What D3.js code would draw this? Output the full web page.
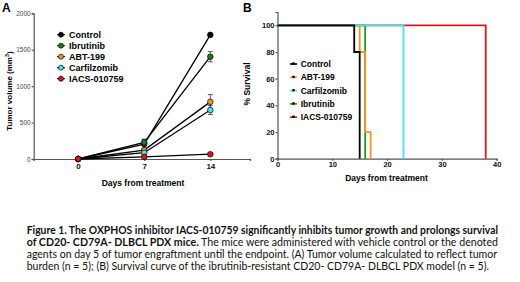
<!DOCTYPE html>
<html>
<head>
<meta charset="utf-8">
<title>IACS-010759 PDX figure</title>
<script src="https://d3js.org/d3.v7.min.js"></script>
<style>
  body { margin: 0; background: #fff; }
  text { font-family: "Liberation Sans", Arial, sans-serif; }
</style>
</head>
<body>
<script>
// ---- panel A data: tumor volume (mm3), mean and error
var daysA = [0, 7, 14];
var namesA = ["Control", "Ibrutinib", "ABT-199", "Carfilzomib", "IACS-010759"];
var colorsA = ["#000000", "#1f7a1f", "#f7941d", "#3fe6f2", "#e3141b"];
var volControl = [0, 205, 1705], errControl = [0, 60, 12];
var volIbrutinib = [0, 228, 1405], errIbrutinib = [0, 45, 70];
var volABT = [0, 122, 785], errABT = [0, 25, 100];
var volCarfilzomib = [0, 86, 672], errCarfilzomib = [0, 18, 62];
var volIACS = [0, 30, 66], errIACS = [0, 8, 14];
var ticksAy = [0, 500, 1000, 1500, 2000];

// ---- panel B data: survival steps (day, % survival)
var namesB = ["Control", "ABT-199", "Carfilzomib", "Ibrutinib", "IACS-010759"];
var colorsB = ["#000000", "#f7941d", "#3fe6f2", "#1f9a1f", "#e8141b"];
var survDaysControl = [0, 14, 15], survControl = [100, 80, 0];
var survDaysABT = [0, 15, 16, 17], survABT = [100, 80, 20, 0];
var survDaysCarfilzomib = [0, 23], survCarfilzomib = [100, 0];
var survDaysIbrutinib = [0, 16], survIbrutinib = [100, 0];
var survDaysIACS = [0, 38], survIACS = [100, 0];
var ticksBx = [0, 10, 20, 30, 40];
var ticksBy = [0, 20, 40, 60, 80, 100];

var captionLines = [
  [{b: true, t: "Figure 1. The OXPHOS inhibitor IACS-010759 significantly inhibits tumor growth and prolongs survival"}],
  [{b: true, t: "of CD20- CD79A- DLBCL PDX mice."}, {b: false, t: " The mice were administered with vehicle control or the denoted"}],
  [{b: false, t: "agents on day 5 of tumor engraftment until the endpoint. (A) Tumor volume calculated to reflect tumor"}],
  [{b: false, t: "burden (n = 5); (B) Survival curve of the ibrutinib-resistant CD20- CD79A- DLBCL PDX model (n = 5)."}]
];

var svg = d3.select("body").append("svg")
    .attr("width", 520).attr("height", 282);

var axisColor = "#555";

// ================= panel A =================
var xA = d3.scaleLinear().domain([-4.7, 18.2]).range([33.7, 250]);
var yA = d3.scaleLinear().domain([0, 2000]).range([159, 13.4]);

var gA = svg.append("g");

var axAy = gA.append("g")
    .attr("transform", "translate(33.7,0)")
    .call(d3.axisLeft(yA).tickValues(ticksAy).tickFormat(d3.format("d")).tickSize(2).tickPadding(1));
axAy.selectAll("text").style("font-size", "6.5px").attr("fill", "#444");

var axAx = gA.append("g")
    .attr("transform", "translate(0,159)")
    .call(d3.axisBottom(xA).tickValues(daysA).tickSize(2).tickPadding(2));
axAx.selectAll("text").style("font-size", "8px").style("font-weight", "bold").attr("fill", "#111");

gA.selectAll(".domain, .tick line").attr("stroke", axisColor).attr("stroke-width", 1.2);

gA.append("text").attr("x", 2).attr("y", 12)
    .style("font-size", "12px").style("font-weight", "bold").text("A");

gA.append("text")
    .attr("transform", "translate(12,91) rotate(-90)")
    .attr("text-anchor", "middle")
    .style("font-size", "8px").style("font-weight", "bold")
    .html('Tumor volume (mm<tspan dy="-3" style="font-size:5.5px">3</tspan><tspan dy="3">)</tspan>');

gA.append("text").attr("x", 143).attr("y", 186)
    .attr("text-anchor", "middle")
    .style("font-size", "8.5px").style("font-weight", "bold")
    .text("Days from treatment");

var seriesA = [
  {vals: volControl, errs: errControl},
  {vals: volIbrutinib, errs: errIbrutinib},
  {vals: volABT, errs: errABT},
  {vals: volCarfilzomib, errs: errCarfilzomib},
  {vals: volIACS, errs: errIACS}
];

var lineA = d3.line()
    .x(function(d, i) { return xA(daysA[i]); })
    .y(function(d) { return yA(d); });

// lines first, then error bars and markers
seriesA.slice().reverse().forEach(function(s) {
  gA.append("path").datum(s.vals)
      .attr("d", lineA)
      .attr("fill", "none").attr("stroke", "#000").attr("stroke-width", 1.3);
});

seriesA.forEach(function(s, k) {
  var g = gA.append("g");
  s.vals.forEach(function(v, i) {
    var e = s.errs[i];
    if (e > 0) {
      var x = xA(daysA[i]);
      g.append("line").attr("x1", x).attr("x2", x)
          .attr("y1", yA(v - e)).attr("y2", yA(v + e))
          .attr("stroke", "#333").attr("stroke-width", 0.8);
      [v - e, v + e].forEach(function(c) {
        g.append("line").attr("x1", x - 2.5).attr("x2", x + 2.5)
            .attr("y1", yA(c)).attr("y2", yA(c))
            .attr("stroke", "#333").attr("stroke-width", 0.8);
      });
    }
  });
  g.selectAll("circle").data(s.vals).enter().append("circle")
      .attr("cx", function(d, i) { return xA(daysA[i]); })
      .attr("cy", function(d) { return yA(d); })
      .attr("r", 2.8)
      .attr("fill", colorsA[k]).attr("stroke", "#000").attr("stroke-width", 0.7);
});

// legend A
var legA = gA.append("g");
namesA.forEach(function(n, i) {
  var y = 34.7 + i * 11;
  legA.append("line").attr("x1", 57).attr("x2", 65).attr("y1", y).attr("y2", y)
      .attr("stroke", "#000").attr("stroke-width", 1);
  legA.append("circle").attr("cx", 61).attr("cy", y).attr("r", 2.5)
      .attr("fill", colorsA[i]).attr("stroke", "#000").attr("stroke-width", 0.7);
  legA.append("text").attr("x", 69).attr("y", y + 3.2)
      .style("font-size", "9px").style("font-weight", "bold").text(n);
});

// ================= panel B =================
var xB = d3.scaleLinear().domain([0, 40]).range([277.5, 496.7]);
var yB = d3.scaleLinear().domain([0, 110]).range([158.7, 12]);

var gB = svg.append("g");

var axBy = gB.append("g")
    .attr("transform", "translate(277.5,0)")
    .call(d3.axisLeft(yB).tickValues(ticksBy).tickSize(2).tickPadding(1));
axBy.selectAll("text").style("font-size", "7.5px").style("font-weight", "bold").attr("fill", "#111");

var axBx = gB.append("g")
    .attr("transform", "translate(0,158.7)")
    .call(d3.axisBottom(xB).tickValues(ticksBx).tickSize(2).tickPadding(1));
axBx.selectAll("text").style("font-size", "7.5px").style("font-weight", "bold").attr("fill", "#111");

gB.selectAll(".domain, .tick line").attr("stroke", axisColor).attr("stroke-width", 1.2);

gB.append("text").attr("x", 243).attr("y", 12)
    .style("font-size", "12px").style("font-weight", "bold").text("B");

gB.append("text")
    .attr("transform", "translate(250,84) rotate(-90)")
    .attr("text-anchor", "middle")
    .style("font-size", "8.5px").style("font-weight", "bold")
    .text("% Survival");

gB.append("text").attr("x", 386.5).attr("y", 181)
    .attr("text-anchor", "middle")
    .style("font-size", "8.5px").style("font-weight", "bold")
    .text("Days from treatment");

var seriesB = {
  "Control": [survDaysControl, survControl],
  "ABT-199": [survDaysABT, survABT],
  "Carfilzomib": [survDaysCarfilzomib, survCarfilzomib],
  "Ibrutinib": [survDaysIbrutinib, survIbrutinib],
  "IACS-010759": [survDaysIACS, survIACS]
};

var stepB = d3.line()
    .x(function(d) { return xB(d[0]); })
    .y(function(d) { return yB(d[1]); })
    .curve(d3.curveStepAfter);

// draw order: red, green, orange, cyan, black (top)
["IACS-010759", "Ibrutinib", "ABT-199", "Carfilzomib", "Control"].forEach(function(n) {
  var s = seriesB[n];
  var pts = d3.zip(s[0], s[1]);
  gB.append("path").datum(pts)
      .attr("d", stepB)
      .attr("fill", "none")
      .attr("stroke", colorsB[namesB.indexOf(n)])
      .attr("stroke-width", 1.8);
});

var legB = gB.append("g");
namesB.forEach(function(n, i) {
  var y = 64 + i * 13.3;
  legB.append("line").attr("x1", 290).attr("x2", 297).attr("y1", y).attr("y2", y)
      .attr("stroke", colorsB[i]).attr("stroke-width", 1.6);
  legB.append("rect").attr("x", 292.3).attr("y", y - 1.6).attr("width", 2.4).attr("height", 2.4)
      .attr("fill", "#000");
  legB.append("text").attr("x", 300.7).attr("y", y + 3.1)
      .style("font-size", "8.5px").style("font-weight", "bold").text(n);
});

// ================= caption =================
var capX = 26.7;
var capEnds = [498, 498, 497, 489];
var capBase = [234, 246, 258, 270];
captionLines.forEach(function(parts, i) {
  var t = svg.append("text")
      .attr("x", capX).attr("y", capBase[i])
      .attr("textLength", capEnds[i] - capX)
      .attr("lengthAdjust", "spacingAndGlyphs")
      .style("font-family", "Lato, 'Open Sans', sans-serif")
      .style("font-size", "10.5px")
      .attr("fill", "#111");
  parts.forEach(function(p) {
    t.append("tspan").style("font-weight", p.b ? "bold" : "normal")
        .attr("xml:space", "preserve")
        .text(p.t);
  });
});
</script>
</body>
</html>
